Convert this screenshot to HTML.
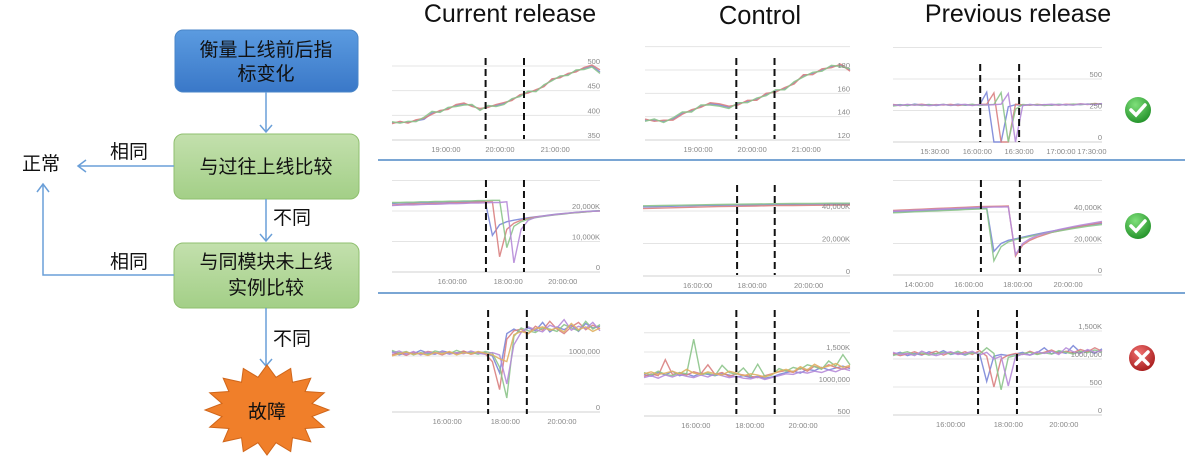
<!DOCTYPE html>
<html><head><meta charset="utf-8"><style>
body{margin:0;background:#fff;width:1200px;height:459px;overflow:hidden}
svg{display:block}
text{font-family:"Liberation Sans","Noto Sans CJK SC",sans-serif}
</style></head><body>
<svg id="root" width="1200" height="459" viewBox="0 0 1200 459" xmlns="http://www.w3.org/2000/svg">
<defs>
<linearGradient id="gBlue" x1="0" y1="0" x2="0" y2="1"><stop offset="0" stop-color="#5b9be0"/><stop offset="1" stop-color="#3a78c8"/></linearGradient>
<linearGradient id="gGreen" x1="0" y1="0" x2="0" y2="1"><stop offset="0" stop-color="#c3e0ad"/><stop offset="1" stop-color="#a3cf87"/></linearGradient>
<radialGradient id="gOk" cx="0.4" cy="0.3" r="0.8"><stop offset="0" stop-color="#7fe07a"/><stop offset="1" stop-color="#1a8a22"/></radialGradient>
<radialGradient id="gBad" cx="0.4" cy="0.3" r="0.8"><stop offset="0" stop-color="#f07070"/><stop offset="1" stop-color="#a01515"/></radialGradient>
</defs>
<g>
<rect x="175" y="30" width="183" height="62" rx="8" fill="url(#gBlue)" stroke="#4a86c8"/>
<text x="266" y="56" font-size="19" text-anchor="middle" fill="#111">衡量上线前后指</text>
<text x="266" y="80" font-size="19" text-anchor="middle" fill="#111">标变化</text>
<rect x="174" y="134" width="185" height="65" rx="9" fill="url(#gGreen)" stroke="#8fbf6f"/>
<text x="266" y="173" font-size="19" text-anchor="middle" fill="#111">与过往上线比较</text>
<rect x="174" y="243" width="185" height="65" rx="9" fill="url(#gGreen)" stroke="#8fbf6f"/>
<text x="266" y="268" font-size="19" text-anchor="middle" fill="#111">与同模块未上线</text>
<text x="266" y="294" font-size="19" text-anchor="middle" fill="#111">实例比较</text>
<g stroke="#6a9fd8" stroke-width="1.5" fill="none">
<path d="M266 92V132M260 125l6 7 6-7"/>
<path d="M266 199V241M260 234l6 7 6-7"/>
<path d="M266 308V366M260 359l6 7 6-7"/>
<path d="M174 166H78M86 160l-8 6 8 6"/>
<path d="M174 275H43V184M37 192l6-8 6 8"/>
</g>
<text x="110" y="158" font-size="19" fill="#111">相同</text>
<text x="22" y="170" font-size="19" fill="#111">正常</text>
<text x="110" y="268" font-size="19" fill="#111">相同</text>
<text x="273" y="224" font-size="19" fill="#111">不同</text>
<text x="273" y="345" font-size="19" fill="#111">不同</text>
<polygon id="star" fill="#f07f2a" stroke="#d0661a"/>
<text x="267" y="418" font-size="19" text-anchor="middle" fill="#111">故障</text>
</g>
<text x="510" y="22" font-size="25" text-anchor="middle" fill="#111">Current release</text>
<text x="760" y="24" font-size="25.5" text-anchor="middle" fill="#111">Control</text>
<text x="1018" y="22" font-size="25" text-anchor="middle" fill="#111">Previous release</text>
<line x1="378" y1="160" x2="1185" y2="160" stroke="#7aa6d4" stroke-width="2"/>
<line x1="378" y1="293" x2="1185" y2="293" stroke="#7aa6d4" stroke-width="2"/>
<g id="charts"></g>
<g><circle cx="1138" cy="110" r="13" fill="url(#gOk)"/><path d="M1131 110l5 5 9-10" stroke="#fff" stroke-width="3.5" fill="none" stroke-linecap="round"/></g>
<g><circle cx="1138" cy="226" r="13" fill="url(#gOk)"/><path d="M1131 226l5 5 9-10" stroke="#fff" stroke-width="3.5" fill="none" stroke-linecap="round"/></g>
<g><circle cx="1142" cy="358" r="13" fill="url(#gBad)"/><path d="M1136 352l12 12M1148 352l-12 12" stroke="#fff" stroke-width="3.5" stroke-linecap="round"/></g>
</svg>
<script>
// ---------- data ----------
const r1c1Series=[[385,386,386,389,392,405,408,414,420,423,420,412,418,420,424,432,440,447,450,460,472,478,483,490,495,500,488],
[383,388,384,391,394,402,410,412,422,425,418,414,416,422,426,430,442,445,452,458,474,476,485,488,497,502,492],
[387,384,388,387,396,408,406,416,418,421,422,410,420,418,422,434,438,449,448,462,470,480,481,492,493,498,485]];
const r1c1Marks=[11.7,16.5];
const r1c1YTicks=[350,400,450,500];
const r1c1YLabels=["350","400","450","500"];
const r1c1XTicks=[6.75,13.5,20.4];
const r1c1XLabels=["19:00:00","20:00:00","21:00:00"];

const r1c2Series=[[137,137,136,138,143,145,149,151,150,148,151,153,155,159,162,164,169,175,177,180,183,184,180],
[138,136,137,137,142,146,148,152,151,149,150,154,154,160,161,165,168,176,176,181,182,185,179],
[136,138,135,139,144,144,150,150,149,147,152,152,156,158,163,163,170,174,178,179,184,183,181]];
const r1c2Marks=[9.8,13.9];
const r1c2YTicks=[120,140,160,180];
const r1c2YLabels=["120","140","160","180"];
const r1c2XTicks=[5.7,11.5,17.3];
const r1c2XLabels=["19:00:00","20:00:00","21:00:00"];

const r1c3Series=[[292,297,288,301,293,298,289,297,292,300,291,296,294,395,0,0,280,296,290,298,293,297,291,299,294,300,296,302,298,305],
[298,290,296,294,300,291,297,293,299,290,296,292,298,300,390,0,0,300,295,291,299,294,296,292,300,297,303,298,306,300],
[286,294,291,297,289,295,292,299,290,297,293,300,289,295,298,392,0,260,298,293,297,290,295,299,293,301,297,300,302,299],
[295,289,299,292,296,288,294,298,291,295,299,290,297,293,296,300,385,0,290,297,291,296,300,294,298,292,302,299,297,304]];
const r1c3Marks=[12.1,17.5];
const r1c3YTicks=[0,250,500];
const r1c3YLabels=["0","250","500"];
const r1c3XTicks=[5.8,11.7,17.5,23.3,27.6];
const r1c3XLabels=["15:30:00","16:00:00","16:30:00","17:00:00","17:30:00"];

const r2c1Series=[[22.5,22.6,22.6,22.7,22.8,22.8,22.9,22.9,23,23,23,23.1,23.1,23.2,12,15.5,16.5,17,17.4,17.8,18.1,18.4,18.7,19,19.2,19.4,19.6,19.8,20,20.1],
[22,22.1,22.2,22.3,22.3,22.4,22.5,22.5,22.6,22.7,22.7,22.8,22.9,23,23,5,14,16,17,17.6,18,18.3,18.6,18.9,19.1,19.3,19.5,19.7,19.9,20],
[22.8,22.8,22.9,22.9,23,23,23.1,23.1,23.2,23.2,23.3,23.3,23.4,23.4,23.5,23.5,8,15,16.5,17.3,17.8,18.2,18.5,18.8,19,19.3,19.5,19.7,19.9,20.1],
[21.8,21.9,22,22,22.1,22.2,22.2,22.3,22.4,22.4,22.5,22.6,22.6,22.7,22.8,22.8,23,3,14,17,17.9,18.3,18.6,18.9,19.1,19.4,19.6,19.8,19.9,20]];
const r2c1Marks=[13.1,18.4];
const r2c1YTicks=[0,10,20];
const r2c1YLabels=["0","10,000K","20,000K"];
const r2c1XTicks=[8.4,16.2,23.8];
const r2c1XLabels=["16:00:00","18:00:00","20:00:00"];

const r2c2Series=[[42.5,42.7,43,43.3,43.5,43.7,43.8,44,44.1,44.2,44.3,44.3],
[41.5,41.8,42.1,42.4,42.7,42.9,43.1,43.3,43.4,43.5,43.6,43.7],
[43.2,43.4,43.6,43.8,44,44.2,44.3,44.5,44.6,44.7,44.8,44.8]];
const r2c2Marks=[5.0,7.0];
const r2c2YTicks=[0,20,40];
const r2c2YLabels=["0","20,000K","40,000K"];
const r2c2XTicks=[2.9,5.8,8.8];
const r2c2XLabels=["16:00:00","18:00:00","20:00:00"];

const r2c3Series=[[40,40.2,40.4,40.6,40.8,41,41.2,41.4,41.6,41.8,42,42.2,42.4,42.5,15,20,22,23,24,25,26,27,27.8,28.6,29.4,30.2,31,31.6,32.2,32.8],
[41,41.2,41.4,41.6,41.8,42,42.2,42.4,42.6,42.8,43,43.2,43.4,43.5,43.6,43.7,43.8,12,19,22,24,25.5,27,28,29,30,31,31.8,32.6,33.4],
[39.5,39.7,39.9,40.1,40.3,40.5,40.7,40.9,41.1,41.3,41.5,41.7,41.9,42,9,18,21,22.5,23.5,24.5,25.5,26.3,27.1,27.9,28.7,29.5,30.2,30.9,31.5,32],
[40.5,40.7,40.9,41.1,41.3,41.5,41.7,41.9,42.1,42.3,42.5,42.7,42.9,43,43.1,43.2,43.3,13,20,23,25,26.5,27.7,28.8,29.8,30.8,31.6,32.4,33.2,34]];
const r2c3Marks=[12.2,17.6];
const r2c3YTicks=[0,20,40];
const r2c3YLabels=["0","20,000K","40,000K"];
const r2c3XTicks=[3.6,10.5,17.3,24.3];
const r2c3XLabels=["14:00:00","16:00:00","18:00:00","20:00:00"];

const r3c1Series=[[1080,1020,1060,1040,1100,1050,1030,1090,1060,1040,1080,1050,1070,1060,1000,700,1400,1480,1420,1500,1450,1600,1430,1520,1470,1550,1440,1580,1500,1530],
[1020,1060,1010,1070,1040,1080,1060,1020,1070,1050,1090,1030,1060,1040,900,400,1300,1450,1480,1400,1530,1460,1620,1480,1400,1520,1600,1470,1550,1490],
[1100,1050,1080,1020,1060,1030,1090,1060,1040,1100,1050,1070,1030,1080,1050,800,250,1350,1500,1450,1420,1500,1480,1440,1560,1500,1450,1620,1480,1560],
[1050,1090,1030,1080,1020,1070,1040,1080,1030,1060,1040,1090,1050,1030,1060,1020,500,1200,1420,1520,1470,1430,1550,1500,1650,1460,1530,1490,1600,1450],
[1000,1040,1070,1030,1050,1010,1060,1040,1080,1020,1060,1040,1080,1050,1020,950,900,1380,1440,1400,1490,1520,1460,1500,1430,1580,1470,1520,1440,1500]];
const r3c1Marks=[13.4,18.8];
const r3c1YTicks=[0,1000];
const r3c1YLabels=["0","1000,000"];
const r3c1XTicks=[7.7,15.8,23.7];
const r3c1XLabels=["16:00:00","18:00:00","20:00:00"];

const r3c2Series=[[1150,1120,1180,1140,1200,1130,1160,1120,1170,1150,1130,1160,1140,1110,1130,1100,1120,1090,1110,1150,1180,1200,1170,1230,1210,1260,1220,1250,1280,1240],
[1120,1160,1130,1380,1150,1170,1140,1190,1160,1300,1150,1180,1120,1160,1140,1120,1100,1130,1160,1190,1210,1180,1250,1200,1280,1240,1300,1260,1230,1270],
[1180,1140,1200,1150,1130,1180,1160,1700,1140,1170,1130,1290,1180,1150,1250,1120,1310,1120,1140,1240,1200,1260,1230,1300,1270,1230,1360,1280,1460,1300],
[1100,1130,1090,1140,1110,1150,1120,1100,1140,1110,1160,1130,1100,1120,1090,1080,1110,1070,1100,1130,1160,1150,1190,1170,1200,1180,1220,1190,1240,1210],
[1160,1190,1150,1170,1200,1160,1230,1170,1150,1190,1160,1140,1200,1170,1130,1160,1140,1110,1150,1200,1230,1190,1270,1220,1310,1250,1280,1320,1260,1290]];
const r3c2Marks=[13.0,18.4];
const r3c2YTicks=[500,1000,1500];
const r3c2YLabels=["500","1000,000","1,500K"];
const r3c2XTicks=[7.3,14.9,22.4];
const r3c2XLabels=["16:00:00","18:00:00","20:00:00"];

const r3c3Series=[[1080,1120,1060,1100,1070,1130,1090,1150,1080,1110,1070,1120,1100,600,1050,1080,1060,1090,1120,1070,1110,1200,1090,1130,1100,1240,1120,1150,1100,1180],
[1100,1060,1090,1130,1080,1100,1140,1070,1120,1090,1130,1080,1150,1050,500,1000,1070,1100,1080,1140,1090,1120,1160,1100,1140,1110,1170,1130,1200,1140],
[1060,1100,1130,1080,1110,1070,1100,1120,1090,1140,1080,1110,1090,1200,1100,450,1030,1060,1100,1120,1080,1110,1090,1150,1120,1090,1140,1110,1160,1120],
[1120,1080,1100,1060,1140,1090,1060,1100,1130,1080,1100,1140,1070,1120,1000,1050,520,1040,1090,1070,1130,1100,1140,1080,1200,1130,1100,1170,1120,1150]];
const r3c3Marks=[11.8,17.2];
const r3c3YTicks=[0,500,1000,1500];
const r3c3YLabels=["0","500","1000,000","1,500K"];
const r3c3XTicks=[8.0,16.0,23.7];
const r3c3XLabels=["16:00:00","18:00:00","20:00:00"];

// ---------- layout ----------
const palette=["#7a86d8","#d98080","#8cc48a","#b58ad8","#e0b060","#5aaec8","#a8705a","#5a6fd0","#9aa0a8"];
const NS="http://www.w3.org/2000/svg";
const panels=[
 {n:"r1c1",s:r1c1Series,m:r1c1Marks,yt:r1c1YTicks,yl:r1c1YLabels,xt:r1c1XTicks,xl:r1c1XLabels,x0:392,x1:600,v0:350,p0:140,v1:500,p1:66,top:45,bot:140,dt:58,db:139,gx:[550]},
 {n:"r1c2",s:r1c2Series,m:r1c2Marks,yt:r1c2YTicks,yl:r1c2YLabels,xt:r1c2XTicks,xl:r1c2XLabels,x0:645,x1:850,v0:120,p0:140,v1:180,p1:70,top:46,bot:140,dt:58,db:139,gx:[200]},
 {n:"r1c3",s:r1c3Series,m:r1c3Marks,yt:r1c3YTicks,yl:r1c3YLabels,xt:r1c3XTicks,xl:r1c3XLabels,x0:893,x1:1102,v0:0,p0:142,v1:500,p1:79,top:48,bot:142,dt:64,db:142,gx:[750]},
 {n:"r2c1",s:r2c1Series,m:r2c1Marks,yt:r2c1YTicks,yl:r2c1YLabels,xt:r2c1XTicks,xl:r2c1XLabels,x0:392,x1:600,v0:0,p0:272,v1:20,p1:211,top:180,bot:272,dt:180,db:272,gx:[30]},
 {n:"r2c2",s:r2c2Series,m:r2c2Marks,yt:r2c2YTicks,yl:r2c2YLabels,xt:r2c2XTicks,xl:r2c2XLabels,x0:643,x1:850,v0:0,p0:276,v1:40,p1:211,top:182,bot:276,dt:185,db:275,gx:[60]},
 {n:"r2c3",s:r2c3Series,m:r2c3Marks,yt:r2c3YTicks,yl:r2c3YLabels,xt:r2c3XTicks,xl:r2c3XLabels,x0:893,x1:1102,v0:0,p0:275,v1:40,p1:212,top:180,bot:275,dt:180,db:272,gx:[60]},
 {n:"r3c1",s:r3c1Series,m:r3c1Marks,yt:r3c1YTicks,yl:r3c1YLabels,xt:r3c1XTicks,xl:r3c1XLabels,x0:392,x1:600,v0:0,p0:412,v1:1000,p1:356,top:300,bot:412,dt:310,db:414,gx:[]},
 {n:"r3c2",s:r3c2Series,m:r3c2Marks,yt:r3c2YTicks,yl:r3c2YLabels,xt:r3c2XTicks,xl:r3c2XLabels,x0:644,x1:850,v0:500,p0:416,v1:1500,p1:352,top:320,bot:416,dt:310,db:414,gx:[1800]},
 {n:"r3c3",s:r3c3Series,m:r3c3Marks,yt:r3c3YTicks,yl:r3c3YLabels,xt:r3c3XTicks,xl:r3c3XLabels,x0:893,x1:1102,v0:0,p0:415,v1:1500,p1:331,top:303,bot:415,dt:310,db:414,gx:[]}
];
function mk(tag,attrs,parent){const e=document.createElementNS(NS,tag);for(const k in attrs)e.setAttribute(k,attrs[k]);parent.appendChild(e);return e;}
const charts=document.getElementById('charts');
panels.forEach(p=>{
 const N=p.s[0].length;
 const xs=i=>p.x0+(p.x1-p.x0)*i/(N-1);
 const ys=v=>p.p0+(v-p.v0)*(p.p1-p.p0)/(p.v1-p.v0);
 const g=mk('g',{},charts);
 
 
 p.yt.concat(p.gx).forEach(v=>{
  const y=ys(v); if(y<p.top-1) return;
  const l=mk('line',{x1:p.x0,x2:p.x1,y1:y,y2:y,stroke:'#e4e4e4','stroke-width':1},g);
  
  
 });
 const ax=mk('line',{x1:p.x0,x2:p.x1,y1:p.bot,y2:p.bot,stroke:'#d0d0d0','stroke-width':1},g);
 
 
 p.s.forEach((ser,k)=>{
  const d=ser.map((v,i)=>(i?'L':'M')+xs(i).toFixed(1)+' '+ys(v).toFixed(1)).join('');
  const pa=mk('path',{d:d,fill:'none',stroke:palette[k%palette.length],'stroke-width':1.4,opacity:0.9},g);
  
  
 });
 p.yt.forEach((v,i)=>{
  const t=mk('text',{x:p.x1,y:ys(v)-2,'font-size':7.5,fill:'#888','text-anchor':'end'},g);
  t.textContent=p.yl[i];
  
  
 });
 p.xt.forEach((v,i)=>{
  const t=mk('text',{x:xs(v),y:p.bot+12,'font-size':7.5,fill:'#888','text-anchor':'middle'},g);
  t.textContent=p.xl[i];
  
  
 });
 p.m.forEach(v=>{
  const l=mk('line',{x1:xs(v),x2:xs(v),y1:p.dt,y2:p.db,stroke:'#111','stroke-width':2,'stroke-dasharray':'7,4'},g);
  
  
 });
});
// star
(function(){const cx=267,cy=410,pts=[];for(let i=0;i<32;i++){const a=Math.PI*i/16-Math.PI/2;const ro=i%2?0.74:1;pts.push((cx+62*ro*Math.cos(a)).toFixed(1)+','+(cy+45*ro*Math.sin(a)).toFixed(1));}document.getElementById('star').setAttribute('points',pts.join(' '));})();
</script>
</body></html>
